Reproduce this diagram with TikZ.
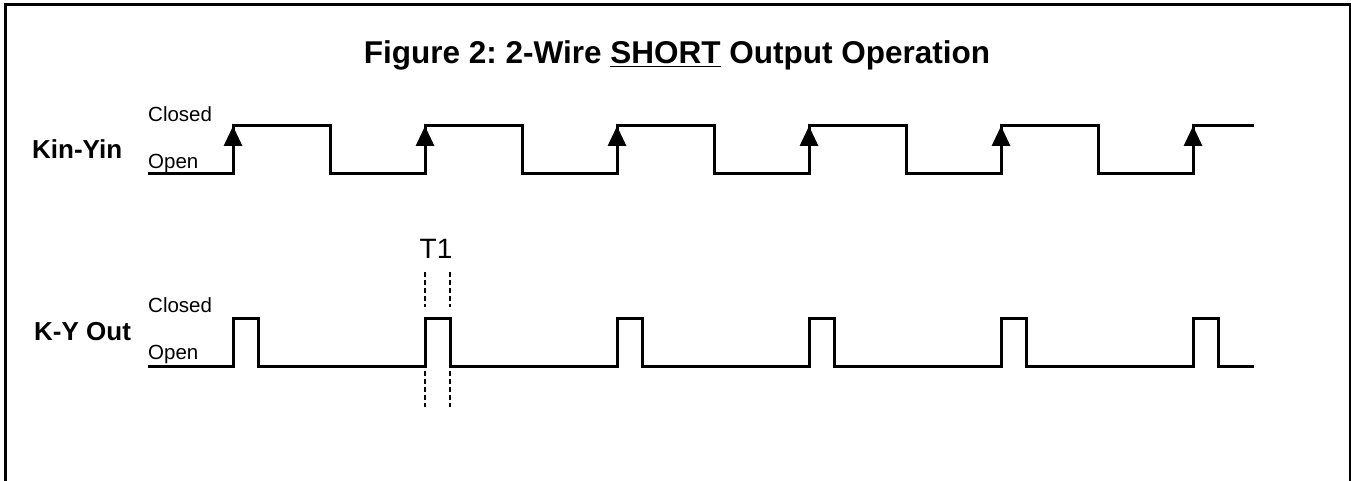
\documentclass[tikz,border=0pt]{standalone}
\usepackage{fontspec}
\setmainfont{Liberation Sans}
\usetikzlibrary{arrows.meta}
\frenchspacing
\begin{document}
\begin{tikzpicture}[x=1pt,y=-1pt,
  wave/.style={line width=3pt,line join=miter},
  edgearrow/.style={line width=3pt,-{Triangle[length=20pt,width=18pt]}},
  tick/.style={line width=1.3pt,dash pattern=on 5pt off 3pt},
  lvl/.style={font=\fontsize{20.5}{22}\selectfont,anchor=base west,inner sep=0pt},
  sig/.style={font=\fontsize{26}{28}\selectfont\bfseries,anchor=base west,inner sep=0pt},
  frame/.style={line width=3pt}]
\useasboundingbox (0,0) rectangle (1351,481);
\clip (0,0) rectangle (1351,481);
\draw[frame] (5,495) -- (5,5) -- (1350,5) -- (1350,495);
\node[font=\fontsize{31.5}{34}\selectfont\bfseries,anchor=base,inner sep=0pt] (title) at (677,64) {Figure 2: 2-Wire \underline{SHORT} Output Operation};
% labels
\node[sig] (kin) at (32,159) {Kin-Yin};
\node[lvl] (c1) at (148,122) {Closed};
\node[lvl] (o1) at (148,169) {Open};
\node[sig] (ky) at (34,340) {K-Y Out};
\node[lvl] (c2) at (148,312) {Closed};
\node[lvl] (o2) at (148,359) {Open};
\node[font=\fontsize{28}{30}\selectfont,anchor=base,inner sep=0pt] (t1) at (436,258) {T1};
% waveform 1
\draw[wave] (148,174) -- (233,174)
  \foreach \r in {233,425,617,809,1001} {
    -- (\r,174) -- (\r,126) -- ({\r+97},126) -- ({\r+97},174)
  } -- (1193,174) -- (1193,126) -- (1254,126);
\foreach \r in {233,425,617,809,1001,1193} {
  \coordinate (lo\r) at (\r,174);
  \coordinate (hi\r) at (\r,126);
  \draw[edgearrow] (lo\r) -- (hi\r);
}
% waveform 2
\draw[wave] (148,366)
  \foreach \r in {233,425,617,809,1001,1193} {
    -- (\r,366) -- (\r,318) -- ({\r+25},318) -- ({\r+25},366)
  } -- (1254,366);
% T1 markers
\coordinate (a1) at (425,272); \coordinate (a2) at (425,307);
\coordinate (a3) at (425,371); \coordinate (a4) at (425,407);
\coordinate (b1) at (450,272); \coordinate (b2) at (450,307);
\coordinate (b3) at (450,371); \coordinate (b4) at (450,407);
\draw[tick] (a1) -- (a2) (a3) -- (a4) (b1) -- (b2) (b3) -- (b4);
\end{tikzpicture}
\end{document}
